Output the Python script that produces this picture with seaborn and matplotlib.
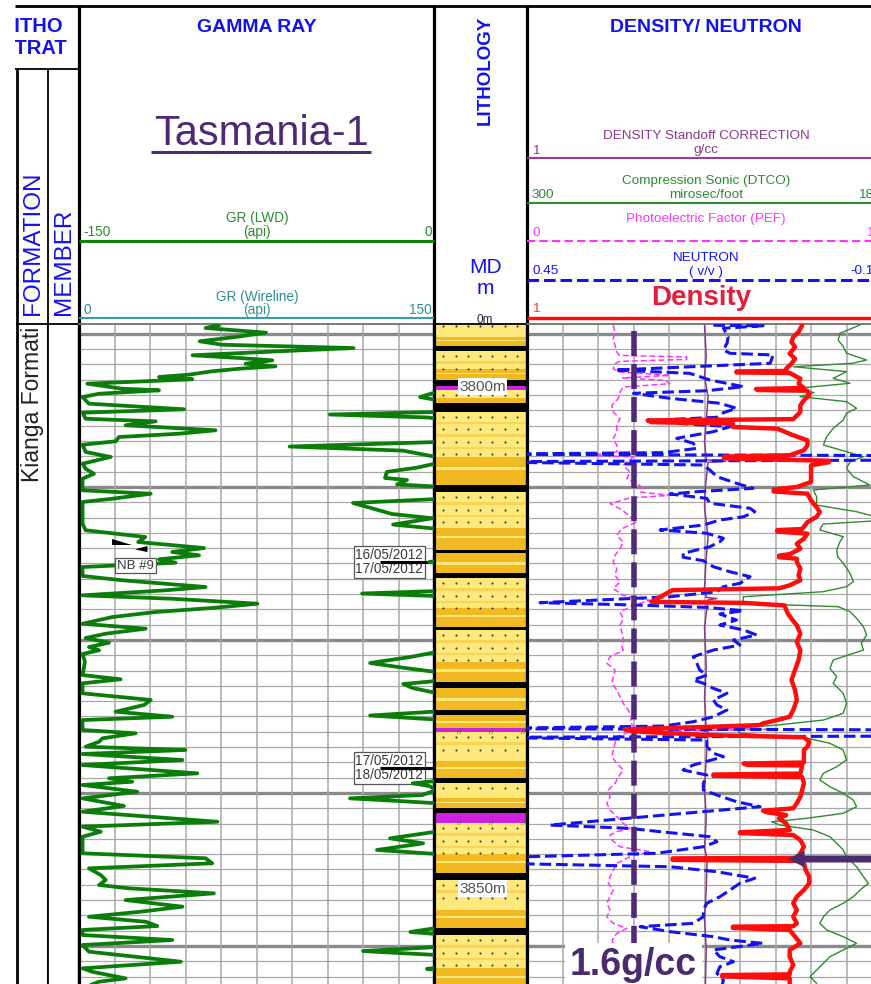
import numpy as np
import matplotlib
matplotlib.use("Agg")
import matplotlib.pyplot as plt
import seaborn as sns
from matplotlib.patches import FancyArrowPatch

sns.set_theme(style="white")
plt.rcParams["font.family"] = ["Liberation Sans", "DejaVu Sans"]

# ------------------------------------------------------------------ data
# (measured depth m, value) pairs for each log curve
GR_WIRELINE = [  # api, 0..150 scale
    (3793.90, 59), (3794.17, 53.5), (3794.64, 79), (3795.07, 66), (3795.50, 51),
    (3795.84, 60.6), (3796.17, 116), (3796.49, 84.5), (3796.89, 48), (3797.16, 67.6),
    (3797.39, 81.7), (3797.73, 70.4), (3797.99, 83), (3798.23, 67.6), (3798.49, 56),
    (3798.82, 46.5), (3799.05, 33.8), (3799.28, 47.9), (3799.72, 3.5), (3800.22, 18.3),
    (3800.38, 33.8), (3800.72, 8.5), (3801.05, 1.5), (3801.71, 4.2), (3802.27, 44.4),
    (3802.61, 1.5), (3803.21, 2.8), (3803.47, 32.4), (3803.86, 19.7), (3804.36, 57.7),
    (3804.70, 42.3), (3805.03, 16.9), (3805.46, 15.5), (3805.80, 1.5), (3806.52, 2.8),
    (3807.02, 13.4), (3807.69, 1.5), (3808.19, 2.8), (3808.69, 6.3), (3809.18, 1.5),
    (3810.34, 1.5), (3810.68, 30.3), (3811.18, 14), (3811.50, 1.5), (3813.33, 1.5),
    (3813.67, 1.5), (3814.32, 2.8), (3814.99, 28), (3815.49, 25), (3816.09, 52.8),
    (3816.48, 39.4), (3816.81, 50.7), (3817.21, 33.8), (3817.55, 40.8), (3817.98, 1.5),
    (3818.87, 1.5), (3819.30, 18.3), (3819.97, 53.5), (3820.30, 36.6), (3820.80, 1.5),
    (3821.14, 39.4), (3821.63, 75.4), (3822.06, 56.3), (3822.46, 32.4), (3822.96, 14.1),
    (3823.63, 1.5), (3824.12, 28.2), (3824.62, 11.3), (3825.05, 2.8), (3825.52, 12.7),
    (3825.95, 4.2), (3826.27, 8.5), (3826.64, 1.5), (3827.41, 2.5), (3828.74, 1.5),
    (3829.16, 17.6), (3829.56, 1.5), (3830.56, 1.5), (3831.22, 30.3), (3831.72, 27.5),
    (3832.39, 15.5), (3832.89, 39.4), (3833.22, 1.5), (3834.21, 1.5), (3834.54, 23.9),
    (3835.04, 9.9), (3835.38, 8.5), (3835.88, 2.8), (3836.20, 45), (3836.60, 1.5),
    (3837.20, 43.7), (3837.70, 1.5), (3838.53, 50), (3839.02, 12.7), (3839.36, 22.5),
    (3839.69, 1.5), (3840.36, 24.6), (3841.02, 1.5), (3841.78, 19), (3842.35, 1.5),
    (3843.35, 58.5), (3843.84, 1.5), (3844.34, 9.2), (3844.84, 1.5), (3846.49, 1.5),
    (3846.99, 53.5), (3847.49, 56.3), (3847.99, 4.2), (3848.66, 9.2), (3849.15, 11.3),
    (3849.65, 8.5), (3849.98, 21.1), (3850.48, 57), (3851.15, 19.7), (3851.81, 43.7),
    (3852.31, 26), (3852.81, 4.2), (3853.31, 28.2), (3853.74, 33.1), (3854.13, 1.5),
    (3854.63, 1.5), (3855.13, 39.4), (3855.63, 1.5), (3856.29, 4.2), (3857.29, 43),
    (3857.95, 1.5), (3858.29, 5.6), (3858.95, 19.7), (3859.28, 8.5), (3859.60, 5),
]

GR_LWD = [  # api, -150..0 scale
    (3793.80, 1), (3800.55, 1), (3801.05, -5.9), (3801.34, 1), (3802.54, 1),
    (3802.79, -44), (3803.09, -2), (3803.24, 1), (3805.53, 1), (3805.98, -61),
    (3806.39, -13), (3807.02, 1), (3807.66, 1), (3808.08, -7.2), (3808.50, -19.9),
    (3809.11, -20.7), (3809.31, -11.4), (3809.75, -15.6), (3809.97, 1), (3811.21, 1),
    (3811.60, -34.2), (3812.70, -17.7), (3813.12, -0.5), (3813.75, -17.3), (3814.17, 1),
    (3817.38, 1), (3817.48, -2), (3817.58, 1), (3820.37, 1), (3820.62, -30.4),
    (3820.87, 1), (3826.45, 1), (3826.94, -10), (3827.54, -27), (3828.04, -12),
    (3828.44, 1), (3829.33, 1), (3829.63, -13), (3830.03, -9), (3830.53, 1),
    (3832.37, 1), (3832.77, -27), (3833.17, 1), (3839.29, 1), (3839.52, -9),
    (3839.79, -2), (3840.19, 1), (3840.69, -5), (3841.02, -35.5), (3841.28, -15),
    (3841.51, 1), (3844.34, 1), (3845.00, -18.6), (3845.50, -4.6), (3846.16, -24.1),
    (3846.56, 1), (3853.93, 1), (3854.33, -10), (3854.53, 1), (3855.83, 1),
    (3856.23, -30), (3856.62, 1), (3857.90, 1), (3858.00, -3), (3858.10, 1),
    (3859.60, 1),
]

DENSITY = [  # g/cc, 1..3 scale
    (3793.90, 2.55), (3794.57, 2.53), (3795.07, 2.50), (3795.57, 2.49), (3796.07, 2.51),
    (3796.73, 2.48), (3797.23, 2.51), (3797.73, 2.49), (3798.23, 2.46), (3798.45, 2.46),
    (3798.50, 2.18), (3798.60, 2.18), (3798.65, 2.48), (3799.22, 2.54), (3799.72, 2.53),
    (3800.15, 2.56), (3800.25, 2.29), (3800.35, 2.30), (3800.42, 2.58), (3800.88, 2.59),
    (3801.37, 2.56), (3801.87, 2.54), (3802.54, 2.54), (3803.25, 2.50), (3803.38, 1.68),
    (3803.55, 1.70), (3803.70, 2.16), (3804.03, 2.16), (3804.20, 2.41), (3804.86, 2.50),
    (3805.36, 2.58), (3805.86, 2.58), (3806.35, 2.56), (3806.85, 2.48), (3806.98, 2.11),
    (3807.15, 2.11), (3807.40, 2.70), (3807.55, 2.70), (3807.85, 2.60), (3808.52, 2.60),
    (3809.51, 2.60), (3810.01, 2.52), (3810.25, 2.39), (3810.45, 2.39), (3810.68, 2.58),
    (3811.33, 2.60), (3812.00, 2.63), (3812.50, 2.65), (3813.00, 2.63), (3813.50, 2.58),
    (3814.20, 2.55), (3814.30, 2.41), (3814.45, 2.41), (3814.66, 2.58), (3815.16, 2.56),
    (3815.66, 2.52), (3816.16, 2.54), (3816.70, 2.48), (3816.85, 2.42), (3817.00, 2.42),
    (3817.15, 2.52), (3817.48, 2.52), (3818.15, 2.54), (3818.80, 2.53), (3819.30, 2.54),
    (3819.80, 2.48), (3820.10, 2.42), (3820.28, 1.82), (3821.45, 1.70), (3821.55, 2.22),
    (3821.80, 2.45), (3822.63, 2.47), (3823.13, 2.49), (3823.78, 2.52), (3824.62, 2.54),
    (3825.45, 2.52), (3826.27, 2.54), (3827.24, 2.53), (3828.24, 2.51), (3829.23, 2.49),
    (3830.23, 2.51), (3831.22, 2.52), (3832.22, 2.50), (3832.89, 2.48), (3833.22, 2.41),
    (3833.55, 2.33), (3833.72, 2.31), (3833.88, 2.05), (3834.15, 1.55), (3834.35, 1.60),
    (3834.71, 2.01), (3834.94, 2.56), (3835.38, 2.59), (3835.88, 2.58), (3836.20, 2.56),
    (3836.87, 2.56), (3837.45, 2.56), (3837.55, 2.22), (3837.68, 2.24), (3837.75, 2.55),
    (3838.55, 2.54), (3838.65, 2.05), (3838.78, 2.05), (3838.90, 2.55), (3839.52, 2.56),
    (3840.19, 2.55), (3840.86, 2.54), (3841.51, 2.52), (3842.01, 2.50), (3842.25, 2.33),
    (3842.40, 2.35), (3842.68, 2.46), (3843.01, 2.42), (3843.51, 2.46), (3844.17, 2.48),
    (3844.40, 2.20), (3844.48, 2.20), (3844.67, 2.50), (3845.17, 2.54), (3845.84, 2.56),
    (3846.49, 2.54), (3846.95, 2.52), (3847.00, 1.82), (3847.15, 1.82), (3847.25, 2.55),
    (3847.49, 2.56), (3848.16, 2.57), (3848.82, 2.59), (3849.48, 2.59), (3850.15, 2.56),
    (3850.82, 2.52), (3851.47, 2.50), (3852.14, 2.52), (3852.81, 2.50), (3853.47, 2.52),
    (3853.75, 2.50), (3853.80, 2.16), (3853.92, 2.16), (3854.13, 2.48), (3854.80, 2.51),
    (3855.46, 2.54), (3856.12, 2.48), (3856.79, 2.48), (3857.62, 2.50), (3858.29, 2.48),
    (3858.55, 2.48), (3858.62, 2.10), (3858.75, 2.10), (3858.95, 2.48), (3859.60, 2.48),
]

NEUTRON = [  # v/v, 0.45..-0.15 scale
    (3793.90, 0.135), (3793.95, 0.051), (3794.20, 0.118), (3795.04, 0.110), (3795.70, 0.112),
    (3796.36, 0.118), (3796.69, 0.107), (3796.86, 0.034), (3797.69, 0.039), (3798.36, 0.301),
    (3798.69, 0.175), (3799.35, 0.141), (3800.02, 0.084), (3800.42, 0.146), (3800.68, 0.270),
    (3801.18, 0.208), (3801.67, 0.124), (3802.17, 0.096), (3802.61, 0.118), (3803.07, 0.129),
    (3803.34, 0.231), (3803.67, 0.197), (3804.00, 0.107), (3804.50, 0.135), (3805.16, 0.197),
    (3805.66, 0.169), (3806.16, 0.163), (3806.59, 0.220), (3806.75, 0.55), (3806.89, -0.25),
    (3807.32, -0.25), (3807.49, 0.55), (3807.82, 0.152), (3808.32, 0.141), (3808.98, 0.129),
    (3809.64, 0.096), (3810.14, 0.068), (3810.48, 0.163), (3810.71, 0.208), (3811.14, 0.146),
    (3811.63, 0.141), (3812.13, 0.073), (3812.47, 0.065), (3812.97, 0.084), (3813.30, 0.124),
    (3813.80, 0.152), (3814.29, 0.225), (3814.62, 0.146), (3815.12, 0.118), (3815.46, 0.124),
    (3815.96, 0.141), (3816.62, 0.186), (3817.01, 0.186), (3817.35, 0.152), (3817.95, 0.135),
    (3818.45, 0.107), (3818.94, 0.073), (3819.60, 0.090), (3819.94, 0.118), (3820.44, 0.129),
    (3820.94, 0.208), (3821.53, 0.428), (3821.76, 0.270), (3822.00, 0.146), (3822.33, 0.084),
    (3822.66, 0.124), (3823.26, 0.096), (3823.76, 0.124), (3824.25, 0.084), (3824.75, 0.062),
    (3825.25, 0.101), (3825.75, 0.090), (3826.25, 0.135), (3826.91, 0.169), (3827.57, 0.163),
    (3828.24, 0.158), (3828.74, 0.146), (3829.23, 0.169), (3829.56, 0.152), (3830.06, 0.135),
    (3830.56, 0.112), (3831.22, 0.135), (3831.72, 0.129), (3832.22, 0.112), (3832.89, 0.135),
    (3833.39, 0.169), (3833.82, 0.220), (3834.08, 0.55), (3834.21, -0.25), (3834.81, -0.25),
    (3834.94, 0.55), (3835.21, 0.146), (3835.88, 0.146), (3836.53, 0.135), (3836.87, 0.118),
    (3837.70, 0.169), (3838.20, 0.186), (3838.70, 0.146), (3839.52, 0.152), (3840.19, 0.152),
    (3840.69, 0.129), (3841.35, 0.096), (3841.85, 0.056), (3843.68, 0.411), (3844.01, 0.276),
    (3844.34, 0.225), (3844.84, 0.141), (3845.34, 0.129), (3845.84, 0.152), (3846.49, 0.231),
    (3846.99, 0.55), (3847.43, 0.55), (3847.83, 0.208), (3848.33, 0.129), (3848.98, 0.065),
    (3849.48, 0.090), (3850.15, 0.107), (3850.82, 0.124), (3851.47, 0.146), (3852.14, 0.152),
    (3852.81, 0.152), (3853.47, 0.169), (3853.80, 0.259), (3854.30, 0.208), (3854.80, 0.135),
    (3855.13, 0.107), (3855.46, 0.051), (3856.12, 0.135), (3856.79, 0.124), (3857.29, 0.101),
    (3857.79, 0.124), (3858.45, 0.129), (3859.12, 0.118), (3859.60, 0.120),
]

PEF = [  # b/e, 0..10 scale
    (3793.90, 2.43), (3794.57, 2.48), (3795.24, 2.43), (3795.90, 2.48), (3796.56, 2.53),
    (3796.90, 2.60), (3797.06, 4.50), (3797.30, 4.50), (3797.50, 2.60), (3797.73, 2.48),
    (3798.23, 2.43), (3798.56, 2.60), (3798.89, 4.03), (3799.15, 2.70), (3799.39, 3.90),
    (3799.72, 4.03), (3800.05, 2.71), (3800.55, 2.62), (3801.21, 2.57), (3801.87, 2.39),
    (3802.54, 2.43), (3803.21, 2.62), (3803.86, 2.53), (3804.53, 2.53), (3805.19, 2.43),
    (3805.86, 2.53), (3806.52, 2.53), (3806.85, 1.77), (3807.02, 2.99), (3807.85, 2.71),
    (3808.52, 2.90), (3809.18, 2.81), (3809.85, 3.18), (3810.51, 3.18), (3810.84, 4.03),
    (3811.10, 2.90), (3811.67, 2.34), (3812.17, 2.62), (3812.67, 2.81), (3813.50, 3.09),
    (3814.16, 2.67), (3814.82, 2.53), (3815.49, 2.71), (3816.16, 2.62), (3816.82, 2.48),
    (3817.48, 2.43), (3818.15, 2.53), (3818.81, 2.48), (3819.47, 2.62), (3820.14, 2.43),
    (3820.80, 2.71), (3821.30, 3.46), (3821.80, 2.99), (3822.46, 2.62), (3823.13, 2.71),
    (3823.79, 2.62), (3824.46, 2.67), (3825.12, 2.71), (3825.79, 2.67), (3826.29, 2.71),
    (3826.91, 2.34), (3827.57, 2.25), (3828.24, 2.48), (3828.90, 2.43), (3829.56, 2.39),
    (3830.23, 2.53), (3830.89, 2.62), (3831.55, 2.71), (3832.22, 2.85), (3832.89, 2.95),
    (3833.39, 2.90), (3833.82, 2.99), (3834.15, 6.75), (3834.38, 2.90), (3834.88, 2.53),
    (3835.54, 2.48), (3836.20, 2.43), (3836.87, 2.39), (3837.53, 2.53), (3838.20, 2.71),
    (3838.86, 2.58), (3839.52, 2.48), (3840.19, 2.29), (3840.86, 2.34), (3841.52, 2.25),
    (3842.18, 2.34), (3842.85, 2.53), (3843.51, 2.71), (3844.01, 2.90), (3844.34, 2.53),
    (3844.67, 2.34), (3845.17, 2.39), (3845.84, 2.62), (3846.33, 3.46), (3846.83, 2.90),
    (3847.49, 2.53), (3848.16, 2.43), (3848.82, 2.34), (3849.48, 2.29), (3850.15, 2.43),
    (3850.82, 2.34), (3851.47, 2.25), (3852.14, 2.34), (3852.81, 2.25), (3853.47, 2.43),
    (3853.97, 2.81), (3854.47, 2.53), (3855.13, 2.40), (3856.10, 2.45), (3857.10, 2.40),
    (3858.10, 2.45), (3859.10, 2.40), (3859.60, 2.42),
]

DTCO = [  # us/ft, 300..180 scale
    (3793.87, 187.4), (3794.70, 194.2), (3795.37, 194.8), (3796.03, 193.1), (3796.69, 192.0),
    (3797.36, 185.2), (3797.69, 190.0), (3798.03, 210.0), (3798.52, 192.0), (3799.19, 196.5),
    (3799.68, 190.8), (3800.18, 208.8), (3800.61, 203.0), (3801.01, 207.7), (3801.51, 192.0),
    (3802.17, 188.6), (3802.67, 192.0), (3803.34, 193.1), (3804.17, 196.5), (3805.00, 198.7),
    (3805.83, 199.8), (3806.49, 192.0), (3806.99, 186.3), (3807.49, 190.8), (3808.15, 192.0),
    (3808.98, 189.7), (3809.81, 184.1), (3810.31, 203.2), (3810.98, 202.1), (3811.81, 202.1),
    (3812.47, 188.6), (3813.30, 178.0), (3813.70, 200.0), (3814.29, 201.0), (3814.96, 193.1),
    (3815.46, 194.2), (3816.29, 195.3), (3816.95, 195.0), (3817.61, 193.1), (3818.61, 190.8),
    (3819.44, 189.7), (3819.94, 192.0), (3820.44, 200.0), (3820.94, 226.9), (3821.60, 226.9),
    (3821.93, 194.8), (3822.43, 190.8), (3823.09, 188.6), (3823.92, 186.3), (3824.75, 185.2),
    (3825.58, 187.0), (3826.25, 186.3), (3827.24, 196.5), (3828.07, 197.6), (3828.90, 195.3),
    (3829.56, 196.5), (3830.56, 193.1), (3831.55, 192.0), (3832.55, 193.1), (3833.22, 199.8),
    (3833.72, 215.6), (3834.05, 229.1), (3834.54, 228.0), (3834.94, 206.6), (3835.54, 197.6),
    (3836.20, 193.1), (3837.20, 192.0), (3837.87, 195.3), (3838.53, 199.8), (3839.19, 201.0),
    (3839.86, 197.6), (3840.52, 193.1), (3841.19, 189.7), (3841.85, 188.6), (3842.51, 193.1),
    (3843.01, 205.5), (3843.35, 217.3), (3843.68, 214.5), (3844.17, 203.2), (3844.84, 197.6),
    (3845.50, 195.3), (3846.16, 193.1), (3846.83, 192.0), (3847.83, 188.6), (3848.82, 186.3),
    (3849.48, 184.6), (3850.15, 187.4), (3850.82, 189.7), (3851.47, 193.1), (3852.14, 197.6),
    (3852.81, 199.8), (3853.47, 201.0), (3854.13, 198.7), (3854.80, 193.1), (3855.46, 188.6),
    (3856.12, 193.1), (3856.79, 197.6), (3857.45, 199.8), (3858.12, 202.1), (3858.78, 204.3),
    (3859.45, 202.1),
]

DSO = [  # g/cc, 1..-1 scale
    (3793.90, 0.0), (3797.00, -0.01), (3799.00, 0.0), (3801.00, -0.02), (3803.50, -0.01),
    (3805.50, 0.0), (3807.30, -0.01), (3807.45, -0.12), (3807.55, -0.02), (3810.00, -0.005),
    (3812.00, 0.0), (3815.00, -0.02), (3817.00, -0.01), (3820.00, 0.0), (3821.00, -0.01),
    (3821.12, -0.07), (3821.25, -0.02), (3824.00, 0.0), (3828.00, -0.01), (3831.00, 0.0),
    (3834.10, -0.01), (3834.25, 0.03), (3834.40, -0.02), (3837.00, -0.01), (3840.00, 0.0),
    (3843.00, -0.01), (3846.00, 0.0), (3847.00, -0.015), (3850.00, -0.01), (3853.00, 0.0),
    (3856.00, -0.01), (3859.60, -0.005),
]

# lithology column: (top m, base m, rock)
BEDS = [
    (3793.50, 3795.97, "sand"), (3795.97, 3796.47, "coal"), (3796.47, 3799.35, "sand"),
    (3799.35, 3799.95, "coal"), (3799.95, 3800.35, "tuff"), (3800.35, 3801.64, "sand"),
    (3801.64, 3802.49, "coal"), (3802.49, 3809.81, "sand"), (3809.81, 3810.51, "coal"),
    (3810.51, 3816.29, "sand"), (3816.29, 3816.58, "coal"), (3816.58, 3818.58, "silt"),
    (3818.58, 3819.08, "coal"), (3819.08, 3823.96, "sand"), (3823.96, 3824.25, "coal"),
    (3824.25, 3829.43, "sand"), (3829.43, 3830.03, "coal"), (3830.03, 3832.22, "silt"),
    (3832.22, 3832.72, "coal"), (3832.72, 3834.02, "silt"), (3834.02, 3834.41, "tuff"),
    (3834.41, 3839.00, "sand"), (3839.00, 3839.49, "coal"), (3839.49, 3841.98, "sand"),
    (3841.98, 3842.48, "coal"), (3842.48, 3843.48, "tuff"), (3843.48, 3848.46, "sand"),
    (3848.46, 3849.15, "coal"), (3849.15, 3853.93, "sand"), (3853.93, 3854.63, "coal"),
    (3854.63, 3860.00, "sand"),
]

FORMATION_NAME = "Kianga Formati"
DEPTH_LABELS = [3800, 3850]
DATE_NOTES = [(3817.48, "16/05/2012\n17/05/2012"), (3838.00, "17/05/2012\n18/05/2012")]
BIT_NOTE = (3817.83, "NB #9")
DENSITY_CUTOFF = 1.6
ARROW_DEPTH = 3847.06
ARROW_TIP = 2.47

TOP, BASE = 3793.775, 3859.51
FT = 0.3048

# ------------------------------------------------------------------ figure
W, H = 871, 984
fig = plt.figure(figsize=(W / 100, H / 100), dpi=100)


def panel(x0, y0, x1, y1, **kw):
    return fig.add_axes([x0 / W, 1 - y1 / H, (x1 - x0) / W, (y1 - y0) / H], **kw)


BLUE = "#1212EE"
PURPLE = "#4E2A75"
GREEN_T = "#2E8B2E"
TEAL_T = "#2F8F8F"

# header drawn in pixel space
hdr = panel(0, 0, W, H)
hdr.set_xlim(0, W)
hdr.set_ylim(H, 0)
hdr.axis("off")


def htxt(x, y, s, **kw):
    kw.setdefault("ha", "center")
    kw.setdefault("va", "center")
    hdr.text(x, y, s, **kw)


def hline(x0, x1, y, **kw):
    hdr.plot([x0, x1], [y, y], solid_capstyle="butt", **kw)


def vline(x, y0, y1, **kw):
    hdr.plot([x, x], [y0, y1], solid_capstyle="butt", **kw)


hline(15, 890, 6, color="black", lw=2)
hline(15, 79, 69, color="black", lw=1.3)
vline(17, 69, 324, color="black", lw=2)
vline(48, 69, 324, color="black", lw=1.3)
for x in (79, 434, 527):
    vline(x, 6, 324, color="black", lw=2.3)

htxt(33, 315, "FORMATION", rotation=90, va="bottom", fontsize=17.5, color=BLUE)
htxt(64, 315, "MEMBER", rotation=90, va="bottom", fontsize=17.5, color=BLUE)

htxt(256.5, 31.5, "GAMMA RAY", va="baseline", fontsize=14, fontweight="bold", color=BLUE)
htxt(261.5, 145, "Tasmania-1", va="baseline", fontsize=30, color=PURPLE)
hline(151, 371, 151.5, color=PURPLE, lw=2.2)

htxt(257, 218, "GR (LWD)", fontsize=9.8, color=GREEN_T)
htxt(257, 232, "(api)", fontsize=9.8, color=GREEN_T)
htxt(83, 232, "-150", ha="left", fontsize=9.8, color=GREEN_T)
htxt(432, 232, "0", ha="right", fontsize=9.8, color=GREEN_T)
hline(79, 434, 241, color="#108010", lw=2.2)

htxt(257, 297, "GR (Wireline)", fontsize=9.8, color=TEAL_T)
htxt(257, 310, "(api)", fontsize=9.8, color=TEAL_T)
htxt(83, 310, "0", ha="left", fontsize=9.8, color=TEAL_T)
htxt(432, 310, "150", ha="right", fontsize=9.8, color=TEAL_T)
hline(79, 434, 318, color="#34A0A0", lw=1.5)

htxt(485.5, 70, "LITHOLOGY", rotation=90, fontsize=13.5, fontweight="bold", color=BLUE)
htxt(485.5, 267.5, "MD", fontsize=15, color=BLUE)
htxt(485.5, 288, "m", fontsize=15, color=BLUE)
htxt(485, 320, "0m", fontsize=8.5, color="#222244")

htxt(706, 31.5, "DENSITY/ NEUTRON", va="baseline", fontsize=14, fontweight="bold", color=BLUE)

C_DSO, C_DT, C_PEF, C_NEU, C_DEN = "#8A3A8A", "#2E8B2E", "#FF33FF", "#1414F0", "#FF0D0D"
htxt(706, 136, "DENSITY Standoff CORRECTION", fontsize=9.7, color=C_DSO)
htxt(706, 150, "g/cc", fontsize=9.7, color=C_DSO)
htxt(532, 151, "1", ha="left", fontsize=9.7, color=C_DSO)
hline(527, 890, 158, color="#9A3A9A", lw=1.5)

htxt(706, 181, "Compression Sonic (DTCO)", fontsize=9.7, color=C_DT)
htxt(706, 195, "mirosec/foot", fontsize=9.7, color=C_DT)
htxt(532, 195, "300", ha="left", fontsize=9.7, color=C_DT)
htxt(881, 195, "180", ha="right", fontsize=9.7, color=C_DT)
hline(527, 890, 203, color=C_DT, lw=1.5)

htxt(706, 219, "Photoelectric Factor (PEF)", fontsize=9.7, color=C_PEF)
htxt(532, 233, "0", ha="left", fontsize=9.7, color=C_PEF)
htxt(881, 233, "10", ha="right", fontsize=9.7, color=C_PEF)
hline(527, 890, 241, color=C_PEF, lw=1.5, linestyle=(0, (4, 2)))

htxt(706, 258, "NEUTRON", fontsize=9.7, color=C_NEU)
htxt(706, 272, "( v/v )", fontsize=9.7, color=C_NEU)
htxt(532, 271, "0.45", ha="left", fontsize=9.7, color=C_NEU)
htxt(881, 271, "-0.15", ha="right", fontsize=9.7, color=C_NEU)
hline(527, 890, 280, color=C_NEU, lw=2.2, linestyle=(0, (3.8, 1.6)))

htxt(701, 298, "Density", fontsize=20, fontweight="bold", color="#E0203C")
htxt(532, 309, "1", ha="left", fontsize=9.7, color="#FF3030")
hline(527, 890, 318, color=C_DEN, lw=2.5)

# clipped LITHO STRAT cell
cell = panel(15, 6, 79, 69)
cell.set_xlim(15, 79)
cell.set_ylim(69, 6)
cell.axis("off")
cell.text(2.5, 32, "LITHO", ha="left", va="baseline", fontsize=14.5,
          fontweight="bold", color=BLUE, clip_on=True)
cell.text(1.5, 53.5, "STRAT", ha="left", va="baseline", fontsize=14.5,
          fontweight="bold", color=BLUE, clip_on=True)

# ------------------------------------------------------------------ body tracks
ax_form = panel(17, 324, 48, 984)
ax_mem = panel(48, 324, 79, 984, sharey=ax_form)
ax_gr = panel(79, 324, 434, 984, sharey=ax_form)
ax_lith = panel(434, 324, 527, 984, sharey=ax_form)
ax_dn = panel(527, 324, 882, 984, sharey=ax_form)
ax_form.set_ylim(BASE, TOP)

for a in (ax_form, ax_mem, ax_gr, ax_lith, ax_dn):
    a.set_xticks([])
    a.set_yticks([])
    a.set_facecolor("white")
    a.spines["bottom"].set_visible(False)
    for s in ("left", "right", "top"):
        a.spines[s].set_color("black")
        a.spines[s].set_linewidth(1.3)

ax_form.spines["left"].set_linewidth(2)
ax_mem.spines["right"].set_linewidth(2.3)
ax_gr.spines["left"].set_linewidth(2.3)
ax_gr.spines["right"].set_linewidth(2.3)
ax_gr.spines["top"].set_color("#707070")
ax_lith.spines["left"].set_linewidth(2.3)
ax_lith.spines["right"].set_linewidth(2.3)
ax_dn.spines["left"].set_linewidth(2.3)
ax_dn.spines["right"].set_visible(False)
ax_dn.spines["top"].set_color("#707070")

ax_form.set_xlim(0, 1)
ax_form.text(0.5, 3809.5, FORMATION_NAME, rotation=90, ha="center", va="bottom",
             fontsize=16.5, color="#222222", clip_on=True)


def depth_grid(ax, xs):
    ft0 = int(np.ceil(TOP / FT / 5) * 5)
    for ft in range(ft0, int(BASE / FT) + 1, 5):
        major = ft % 50 == 0
        ax.axhline(ft * FT, color="#8a8a8a" if major else "#a8a8a8",
                   lw=2.4 if major else 0.9, zorder=0.5)
    for x in xs:
        ax.axvline(x, color="#a8a8a8", lw=1.1, zorder=0.5)


ax_gr.set_xlim(0, 10)
depth_grid(ax_gr, range(1, 10))
ax_dn.set_xlim(0, 10)
depth_grid(ax_dn, range(1, 10))


def overlay(base, xlim):
    a = fig.add_axes(base.get_position().bounds, sharey=base)
    a.set_xlim(*xlim)
    a.set_facecolor("none")
    a.axis("off")
    return a


def curve(ax, data, xlim, **kw):
    d, v = np.array(data, dtype=float).T
    sns.lineplot(x=v, y=d, ax=ax, sort=False, estimator=None, legend=False, **kw)
    ax.set_xlim(*xlim)


# ---- gamma ray track
gr_w = overlay(ax_gr, (0, 150))
curve(gr_w, GR_WIRELINE, (0, 150), color="#0A7D0A", lw=2.7)
gr_l = overlay(ax_gr, (-150, 0))
curve(gr_l, GR_LWD, (-150, 0), color="#0A7D0A", lw=2.7)

for depth, label in DATE_NOTES:
    gr_w.text(131, depth, label, ha="center", va="center", fontsize=9.8, color="#3a3a3a",
              linespacing=1.0, zorder=5,
              bbox=dict(boxstyle="square,pad=0.12", fc="white", ec="#555555", lw=0.9))
    gr_w.plot([127, 150], [depth, depth], color="black", lw=2.2, zorder=6,
              solid_capstyle="butt")

bit_depth, bit_label = BIT_NOTE
gr_w.text(23.7, bit_depth, bit_label, ha="center", va="center", fontsize=9.5,
          color="#3a3a3a", zorder=5,
          bbox=dict(boxstyle="square,pad=0.15", fc="white", ec="#555555", lw=0.9))
gr_w.fill([14.1, 14.1, 22.5], [bit_depth - 2.61, bit_depth - 2.07, bit_depth - 2.07],
          color="black", lw=0, zorder=5)
gr_w.fill([28.9, 28.9, 23.7], [bit_depth - 1.94, bit_depth - 1.34, bit_depth - 1.61],
          color="black", lw=0, zorder=5)

# ---- lithology track
LIGHT, MID, ORANGE, TUFF = "#FFE97C", "#F8D458", "#F2BA22", "#D020E2"
ax_lith.set_xlim(0, 1)
dot_x = np.arange(0.1, 0.95, 0.132)
for top, base, kind in BEDS:
    h = base - top
    if kind == "coal":
        ax_lith.axhspan(top, base, color="black", lw=0)
    elif kind == "tuff":
        ax_lith.axhspan(top, base, color=TUFF, lw=0)
        if min(abs(base - d) for d in DEPTH_LABELS) > 1.0:
            for x in (0.27, 0.62, 0.96):
                ax_lith.text(x, base + 0.05, "//", fontsize=6, color="#555555",
                             ha="center", va="center")
    elif kind == "silt":
        ax_lith.axhspan(top, base, color=ORANGE, lw=0)
        ax_lith.axhspan(top + 0.45 * h, top + 0.58 * h, color=LIGHT, lw=0)
    else:
        ax_lith.axhspan(top, base, color=LIGHT, lw=0)
        split = top + 0.62 * h
        rows = np.arange(top + 0.5, split, 1.25)
        for r in rows[1:]:
            ax_lith.axhspan(r - 0.75, r - 0.5, color=MID, lw=0)
        ax_lith.axhspan(split, base, color=ORANGE, lw=0)
        ax_lith.axhspan(split + 0.35 * (base - split), split + 0.47 * (base - split),
                        color=LIGHT, lw=0)
        for r in rows:
            ax_lith.scatter(dot_x, np.full_like(dot_x, r), s=2.2, color="#333333",
                            lw=0, zorder=3)

for d in DEPTH_LABELS:
    ax_lith.text(0.52, d, f"{d}m", ha="center", va="center", fontsize=11, color="#555555",
                 zorder=5, bbox=dict(boxstyle="square,pad=0.1", fc="white", ec="none"))

# ---- density / neutron track
dso = overlay(ax_dn, (1, -1))
curve(dso, DSO, (1, -1), color=C_DSO, lw=1.1)
pef = overlay(ax_dn, (0, 10))
curve(pef, PEF, (0, 10), color=C_PEF, lw=1.1, linestyle=(0, (3.8, 2)))
dt = overlay(ax_dn, (300, 180))
curve(dt, DTCO, (300, 180), color=C_DT, lw=1.0)
neu = overlay(ax_dn, (0.45, -0.15))
curve(neu, NEUTRON, (0.45, -0.15), color=C_NEU, lw=2.2, linestyle=(0, (3.8, 1.6)))

cut = overlay(ax_dn, (1, 3))
cut.axvline(DENSITY_CUTOFF, color="#4F2A78", lw=4, linestyle=(0, (4.5, 1.45)))

den = overlay(ax_dn, (1, 3))
curve(den, DENSITY, (1, 3), color=C_DEN, lw=3.2)

den.add_patch(FancyArrowPatch((3.15, ARROW_DEPTH), (ARROW_TIP, ARROW_DEPTH),
                              arrowstyle="simple,head_length=1.0,head_width=1.0,tail_width=0.42",
                              mutation_scale=12, color="#4B2A6E", lw=0,
                              shrinkA=0, shrinkB=0, zorder=6, clip_on=False))
den.text(DENSITY_CUTOFF, 3855.83, f"{DENSITY_CUTOFF}g/cc", ha="center", va="top",
         fontsize=27, fontweight="bold", color="#4B2A6E", zorder=7,
         bbox=dict(boxstyle="square,pad=0.12", fc="white", ec="none"))

ax_form.set_ylim(BASE, TOP)
fig.savefig("out.png", dpi=100)
